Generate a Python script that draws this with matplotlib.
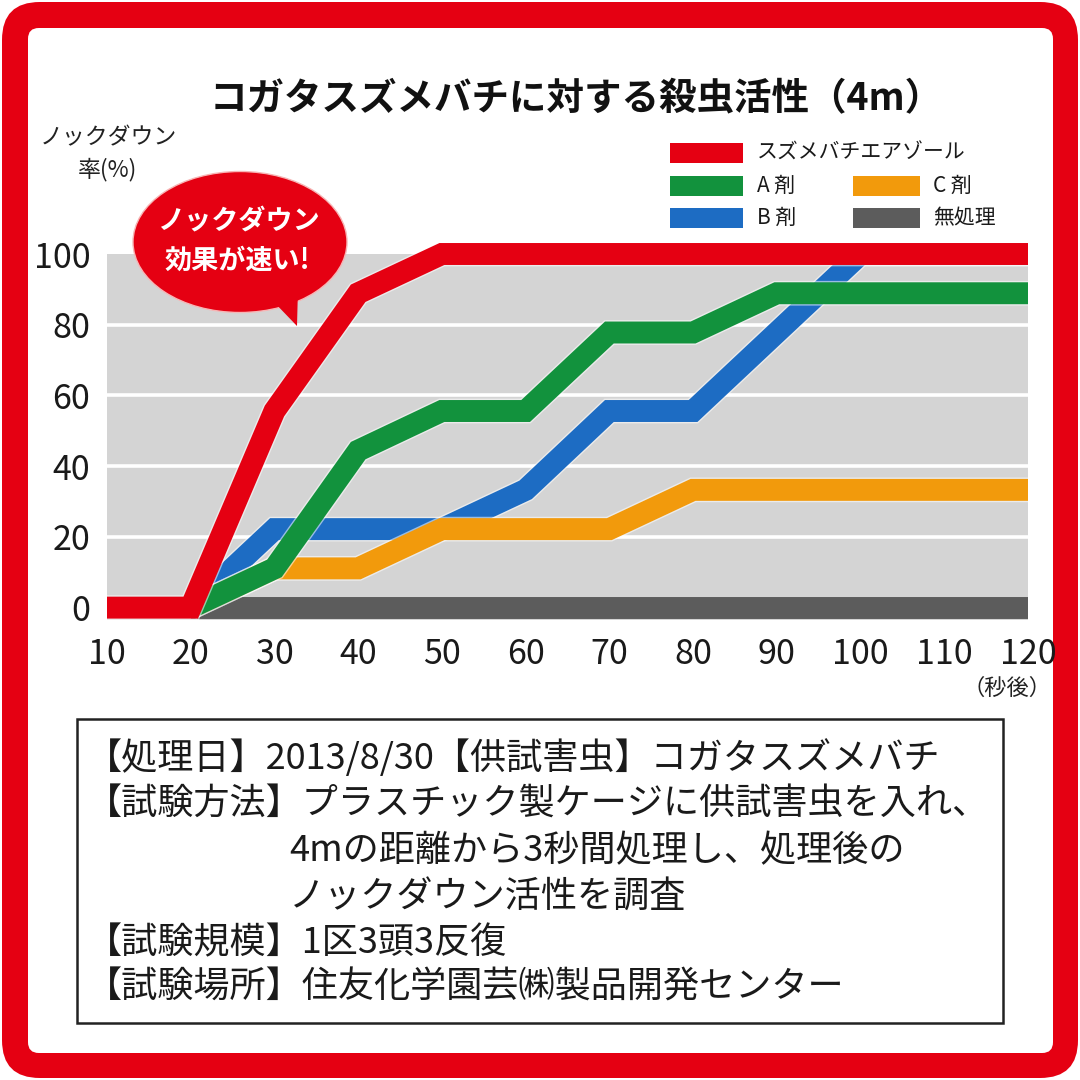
import matplotlib
matplotlib.use("Agg")
import matplotlib.pyplot as plt
from matplotlib.patches import FancyBboxPatch, Rectangle, Ellipse, Polygon
import matplotlib.patheffects as pe

plt.rcParams['font.family'] = ['Noto Sans CJK JP', 'DejaVu Sans']

# ---------------- data ----------------
title = "コガタスズメバチに対する殺虫活性（4m）"
series_names = ["スズメバチエアゾール", "A 剤", "B 剤", "C 剤", "無処理"]
series_colors = ["#e50012", "#12923d", "#1d6cc3", "#f29a0c", "#5c5c5c"]

red_x = [10, 20, 30, 40, 50, 120]
red_y = [0, 0, 55.6, 88.9, 100, 100]
a_x = [20, 30, 40, 50, 60, 70, 80, 90, 120]
a_y = [0, 11.1, 44.4, 55.6, 55.6, 77.8, 77.8, 88.9, 88.9]
b_x = [20, 30, 40, 50, 60, 70, 80, 90, 100, 120]
b_y = [0, 22.2, 22.2, 22.2, 33.3, 55.6, 55.6, 77.8, 100, 100]
c_x = [20, 30, 40, 50, 60, 70, 80, 120]
c_y = [0, 11.1, 11.1, 22.2, 22.2, 22.2, 33.3, 33.3]
none_x = [20, 120]
none_y = [0, 0]

x_ticks = [10, 20, 30, 40, 50, 60, 70, 80, 90, 100, 110, 120]
y_ticks = [0, 20, 40, 60, 80, 100]

notes = [
    ("【処理日】2013/8/30【供試害虫】コガタスズメバチ", 0),
    ("【試験方法】プラスチック製ケージに供試害虫を入れ、", 0),
    ("4mの距離から3秒間処理し、処理後の", 1),
    ("ノックダウン活性を調査", 1),
    ("【試験規模】1区3頭3反復", 0),
    ("【試験場所】住友化学園芸㈱製品開発センター", 0),
]

# ---------------- figure ----------------
W = 1080.0
fig = plt.figure(figsize=(10.8, 10.8), dpi=100)
fig.patch.set_facecolor("white")

def fx(px):
    return px / W

def fy(py):
    return 1 - py / W

# frame
fig.patches.append(FancyBboxPatch((fx(2), fy(1078)), fx(1076), fx(1076),
                                  boxstyle="round,pad=0,rounding_size=0.035",
                                  transform=fig.transFigure, facecolor="#e50012",
                                  edgecolor="none", zorder=-10))
fig.patches.append(FancyBboxPatch((fx(28), fy(1053)), fx(1025), fx(1025),
                                  boxstyle="round,pad=0,rounding_size=0.01",
                                  transform=fig.transFigure, facecolor="white",
                                  edgecolor="none", zorder=-9))

# axes
ax = fig.add_axes([fx(107), fy(620), fx(1028) - fx(107), fx(620 - 254)])
ax.set_xlim(10, 120)
ax.set_ylim(-3.5, 100)
ax.set_facecolor("#d4d4d4")
for s in ax.spines.values():
    s.set_visible(False)
for yv in y_ticks[1:-1]:
    ax.axhline(yv, color="white", lw=2.6, zorder=1)

lw = 15.8
halo = [pe.Stroke(linewidth=lw + 2.0, foreground="white", alpha=0.55), pe.Normal()]
common = dict(lw=lw, solid_capstyle="butt", solid_joinstyle="miter", clip_on=False)
ax.plot(none_x, none_y, color=series_colors[4], zorder=2, **common)
ax.plot(b_x, b_y, color=series_colors[2], zorder=3, path_effects=halo, **common)
ax.plot(c_x, c_y, color=series_colors[3], zorder=4, path_effects=halo, **common)
ax.plot(a_x, a_y, color=series_colors[1], zorder=5, path_effects=halo, **common)
ax.plot(red_x, red_y, color=series_colors[0], zorder=6, path_effects=halo, **common)

ax.set_xticks(x_ticks)
ax.set_xticklabels([str(v) for v in x_ticks])
ax.set_yticks(y_ticks)
ax.set_yticklabels([str(v) for v in y_ticks])
ax.tick_params(axis="both", length=0, labelsize=24.5, colors="#1a1a1a")
ax.tick_params(axis="x", pad=12)
ax.tick_params(axis="y", pad=12)

# title
fig.text(fx(576), fy(99), title, ha="center", va="center", fontsize=27,
         fontweight="bold", color="#111111")

# y label
fig.text(fx(108), fy(138), "ノックダウン", ha="center", va="center", fontsize=16.5, color="#222222")
fig.text(fx(108), fy(170), "率(%)", ha="center", va="center", fontsize=16.5, color="#222222")
fig.text(fx(1052), fy(688), "（秒後）", ha="right", va="center", fontsize=16, color="#222222")

# legend (manual layout)
leg_items = [
    (0, 670, 153, 743, 757),
    (1, 670, 186, 743, 757),
    (2, 670, 218, 743, 757),
    (3, 853, 186, 920, 933),
    (4, 853, 218, 920, 933),
]
for idx, x0, yc, x1, xt in leg_items:
    fig.patches.append(Rectangle((fx(x0), fy(yc + 10)), fx(x1 - x0), fx(20),
                                 transform=fig.transFigure,
                                 facecolor=series_colors[idx], edgecolor="none", zorder=3))
    fig.text(fx(xt), fy(yc), series_names[idx], ha="left", va="center",
             fontsize=15, color="#1a1a1a")

# speech bubble
fig.patches.append(Ellipse((fx(240), fy(242)), fx(214), fx(141), transform=fig.transFigure,
                           facecolor="#e50012", edgecolor="#f7b5b5", lw=1.0, zorder=8))
fig.patches.append(Polygon([(fx(272), fy(300)), (fx(298), fy(288)), (fx(297), fy(326))],
                           closed=True, transform=fig.transFigure,
                           facecolor="#e50012", edgecolor="none", zorder=9))
fig.text(fx(238), fy(221), "ノックダウン", ha="center", va="center", fontsize=19.5,
         fontweight="bold", color="white", zorder=10)
fig.text(fx(237), fy(261), "効果が速い!", ha="center", va="center", fontsize=19.5,
         fontweight="bold", color="white", zorder=10)

# notes box
fig.patches.append(Rectangle((fx(77), fy(1023)), fx(1003 - 77), fx(1023 - 719),
                             transform=fig.transFigure, facecolor="white",
                             edgecolor="#222222", lw=1.8, zorder=1))
line_y = [758, 805, 851, 898, 943, 988]
for (txt, indent), yy in zip(notes, line_y):
    x0 = 86 if indent == 0 else 289
    fig.text(fx(x0), fy(yy), txt, ha="left", va="center", fontsize=26,
             color="#1a1a1a", zorder=2)

fig.savefig("out.png", dpi=100, facecolor="white")
